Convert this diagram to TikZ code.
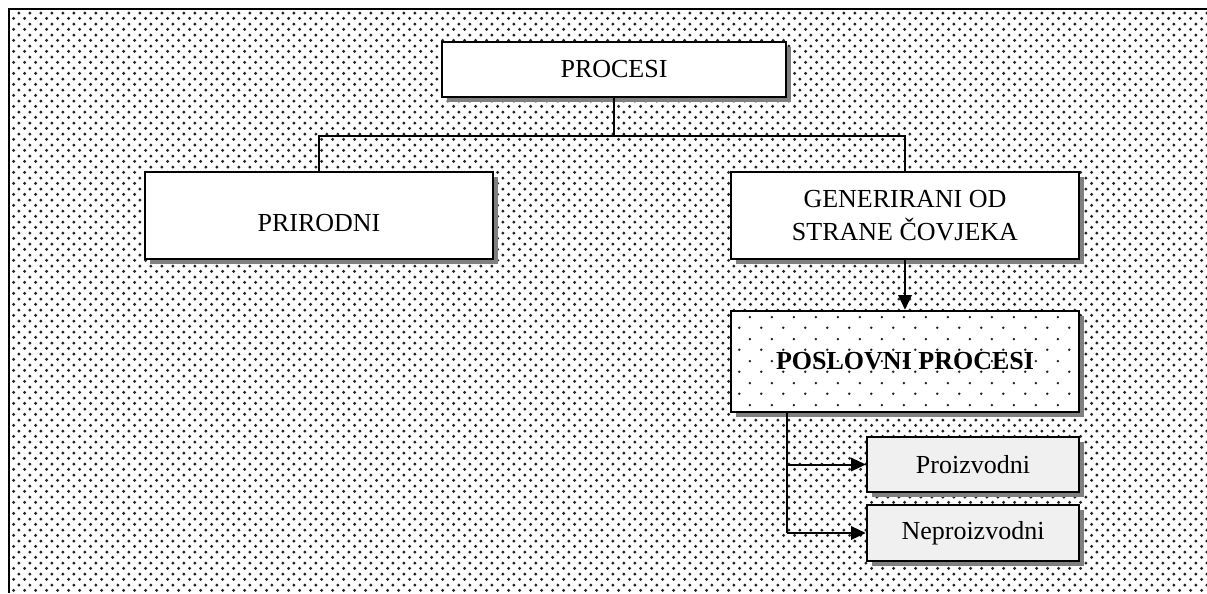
\documentclass[tikz,border=0pt]{standalone}
\usepackage{fontspec}
\setmainfont{Liberation Serif}
\usetikzlibrary{patterns,shadows,arrows.meta}
\definecolor{dotgray}{RGB}{35,35,35}
\definecolor{shadowgray}{RGB}{128,128,128}
\definecolor{lightbox}{RGB}{240,240,240}
\pgfdeclarepatternformonly{bgdots}{\pgfqpoint{0pt}{0pt}}{\pgfqpoint{8.1pt}{8.1pt}}{\pgfqpoint{8.1pt}{8.1pt}}{%
  \pgfpathcircle{\pgfqpoint{2pt}{2pt}}{1.25pt}%
  \pgfpathcircle{\pgfqpoint{6.05pt}{6.05pt}}{1.25pt}%
  \pgfusepath{fill}}
\pgfdeclarepatternformonly{innerdots}{\pgfqpoint{0pt}{0pt}}{\pgfqpoint{16.2pt}{16.2pt}}{\pgfqpoint{16.2pt}{16.2pt}}{%
  \pgfpathcircle{\pgfqpoint{4pt}{4pt}}{1pt}%
  \pgfpathcircle{\pgfqpoint{12.1pt}{12.1pt}}{1pt}%
  \pgfusepath{fill}}
\tikzset{
  shad/.style={drop shadow={shadow xshift=3.75pt, shadow yshift=-3.75pt, fill=shadowgray, opacity=1}},
  box/.style={shad, draw=black, line width=1.8pt, fill=white, inner sep=0pt, align=center,
    font=\fontsize{19.5}{24.75}\selectfont},
  smallbox/.style={box, fill=lightbox},
  conn/.style={draw=black, line width=1.5pt},
  arr/.style={conn, -{Triangle[length=11pt,width=10pt]}},
}
\begin{document}
\begin{tikzpicture}[x=0.75pt,y=-0.75pt]
\useasboundingbox (0,0) rectangle (1207,593);
\fill[white] (0,0) rectangle (1207,593);
\fill[pattern=bgdots, pattern color=dotgray] (10,10) rectangle (1207,593);
\draw[line width=1.8pt] (9,593) -- (9,9) -- (1207,9);

\node[box, minimum width=258pt, minimum height=41.25pt] (procesi) at (614,69.5) {PROCESI};
\node[box, minimum width=261pt, minimum height=65.25pt] (prirodni) at (319,215.5) {\mbox{}\\PRIRODNI};
\node[box, minimum width=261pt, minimum height=65.25pt] (gen) at (905,215.5) {GENERIRANI OD\\STRANE ČOVJEKA};
\node[box, preaction={fill=white}, pattern=innerdots, pattern color=dotgray, minimum width=261pt, minimum height=75.75pt] (posl) at (905,361.5) {\raisebox{-4.5pt}{\textbf{POSLOVNI PROCESI}}};
\node[smallbox, minimum width=159pt, minimum height=41.25pt] (proiz) at (973,464.5) {Proizvodni};
\node[smallbox, minimum width=159pt, minimum height=42pt] (neproiz) at (973,533) {Neproizvodni};

\coordinate (j) at (614,136);
\coordinate (b) at (787,533);

\draw[conn] (procesi.south) -- (j);
\draw[conn] (prirodni.north) |- (j) -| (gen.north);
\draw[arr] (gen.south) -- (posl.north);
\draw[conn] (posl.south -| b) -- (b);
\draw[arr] (posl.south -| b) |- (proiz.west);
\draw[arr] (b) -- (neproiz.west);
\end{tikzpicture}
\end{document}
